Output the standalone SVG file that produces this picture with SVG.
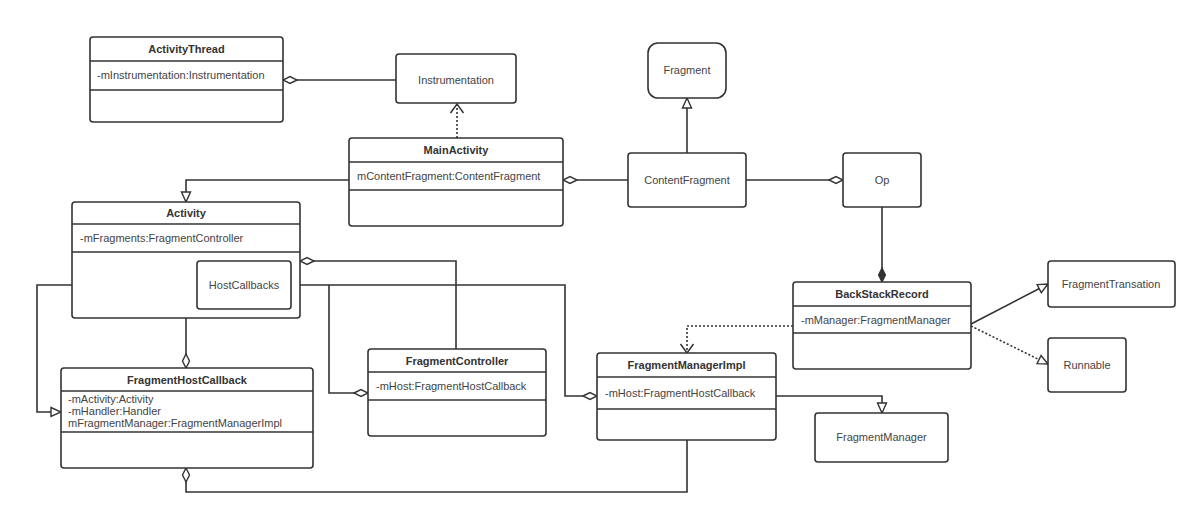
<svg xmlns="http://www.w3.org/2000/svg" width="1200" height="517" viewBox="0 0 1200 517">
<style>
.box{fill:#fff;stroke:#333;stroke-width:1.6}
.div{stroke:#333;stroke-width:1.4}
.t{font-family:"Liberation Sans",Arial,sans-serif;font-size:11px;fill:#444}
.b{font-family:"Liberation Sans",Arial,sans-serif;font-size:11px;font-weight:bold;fill:#333;text-anchor:middle}
.c{text-anchor:middle}
.ln{fill:none;stroke:#333;stroke-width:1.6}
.dot{fill:none;stroke:#333;stroke-width:1.6;stroke-dasharray:2 2}
</style>
<defs>
<marker id="dia" markerUnits="userSpaceOnUse" markerWidth="16" markerHeight="10" viewBox="-1 -5 16 10" refX="14" refY="0" orient="auto">
<path d="M0,0 L7,-3.5 L14,0 L7,3.5 Z" fill="#fff" stroke="#333" stroke-width="1.4"/>
</marker>
<marker id="fdia" markerUnits="userSpaceOnUse" markerWidth="16" markerHeight="10" viewBox="-1 -5 16 10" refX="14" refY="0" orient="auto">
<path d="M0,0 L7,-3.5 L14,0 L7,3.5 Z" fill="#333" stroke="#333" stroke-width="1.2"/>
</marker>
<marker id="tri" markerUnits="userSpaceOnUse" markerWidth="12" markerHeight="12" viewBox="-1 -6 12 12" refX="10" refY="0" orient="auto">
<path d="M0,-4.5 L10,0 L0,4.5 Z" fill="#fff" stroke="#333" stroke-width="1.4"/>
</marker>
<marker id="arr" markerUnits="userSpaceOnUse" markerWidth="12" markerHeight="16" viewBox="-1 -8 12 16" refX="9" refY="0" orient="auto">
<path d="M0,-6.5 L9,0 L0,6.5" fill="none" stroke="#333" stroke-width="1.5"/>
</marker>
</defs>
<rect width="1200" height="517" fill="#fff"/>

<g id="connectors">
<path class="ln" d="M396,80 L283,80" marker-end="url(#dia)"/>
<path class="dot" d="M457,138 L457,104" marker-end="url(#arr)"/>
<path class="ln" d="M349,180 L186,180 L186,202" marker-end="url(#tri)"/>
<path class="ln" d="M628,180 L563,180" marker-end="url(#dia)"/>
<path class="ln" d="M687,153 L687,98" marker-end="url(#tri)"/>
<path class="ln" d="M746,180 L843,180" marker-end="url(#dia)"/>
<path class="ln" d="M882,207 L882,282" marker-end="url(#fdia)"/>
<path class="ln" d="M971,324 L1048,284" marker-end="url(#tri)"/>
<path class="dot" d="M971,326 L1048,364" marker-end="url(#tri)"/>
<path class="dot" d="M793,326 L687,326 L687,353" marker-end="url(#arr)"/>
<path class="ln" d="M776,396 L882,396 L882,413" marker-end="url(#tri)"/>
<path class="ln" d="M687,440 L687,492 L186,492 L186,468" marker-end="url(#dia)"/>
<path class="ln" d="M197,285 L37,285 L37,412 L61,412" marker-end="url(#tri)"/>
<path class="ln" d="M291,285 L565,285 L565,396 L597,396" marker-end="url(#dia)"/>
<path class="ln" d="M329,285 L329,393 L368,393" marker-end="url(#dia)"/>
<path class="ln" d="M456,349 L456,261 L300,261" marker-end="url(#dia)"/>
<path class="ln" d="M186,318 L186,368" marker-end="url(#dia)"/>
</g>

<g id="ActivityThread">
<rect class="box" x="90" y="37" width="193" height="85" rx="3"/>
<line class="div" x1="90" y1="61" x2="283" y2="61"/>
<line class="div" x1="90" y1="90" x2="283" y2="90"/>
<text class="b" x="186.5" y="53">ActivityThread</text>
<text class="t" x="97" y="79">-mInstrumentation:Instrumentation</text>
</g>

<g id="Instrumentation">
<rect class="box" x="396" y="54" width="120" height="49" rx="3"/>
<text class="t c" x="456" y="84">Instrumentation</text>
</g>

<g id="MainActivity">
<rect class="box" x="349" y="138" width="214" height="88" rx="3"/>
<line class="div" x1="349" y1="162" x2="563" y2="162"/>
<line class="div" x1="349" y1="190" x2="563" y2="190"/>
<text class="b" x="456" y="154">MainActivity</text>
<text class="t" x="357" y="180">mContentFragment:ContentFragment</text>
</g>

<g id="Fragment">
<rect class="box" x="648" y="43" width="78" height="55" rx="10"/>
<text class="t c" x="687" y="74">Fragment</text>
</g>

<g id="ContentFragment">
<rect class="box" x="628" y="153" width="118" height="54" rx="3"/>
<text class="t c" x="687" y="184">ContentFragment</text>
</g>

<g id="Op">
<rect class="box" x="843" y="153" width="78" height="54" rx="3"/>
<text class="t c" x="882" y="184">Op</text>
</g>

<g id="BackStackRecord">
<rect class="box" x="793" y="282" width="178" height="87" rx="3"/>
<line class="div" x1="793" y1="306" x2="971" y2="306"/>
<line class="div" x1="793" y1="333" x2="971" y2="333"/>
<text class="b" x="882" y="298">BackStackRecord</text>
<text class="t" x="801" y="324">-mManager:FragmentManager</text>
</g>

<g id="FragmentTransation">
<rect class="box" x="1048" y="261" width="127" height="46" rx="3"/>
<text class="t c" x="1111" y="288">FragmentTransation</text>
</g>

<g id="Runnable">
<rect class="box" x="1048" y="338" width="78" height="54" rx="3"/>
<text class="t c" x="1087" y="369">Runnable</text>
</g>

<g id="Activity">
<rect class="box" x="72" y="202" width="228" height="116" rx="3"/>
<line class="div" x1="72" y1="224" x2="300" y2="224"/>
<line class="div" x1="72" y1="252" x2="300" y2="252"/>
<text class="b" x="186" y="217">Activity</text>
<text class="t" x="80" y="242">-mFragments:FragmentController</text>
</g>

<g id="HostCallbacks">
<rect class="box" x="197" y="261" width="94" height="48" rx="3"/>
<text class="t c" x="244" y="289">HostCallbacks</text>
</g>

<g id="FragmentHostCallback">
<rect class="box" x="61" y="368" width="252" height="100" rx="3"/>
<line class="div" x1="61" y1="391" x2="313" y2="391"/>
<line class="div" x1="61" y1="432" x2="313" y2="432"/>
<text class="b" x="187" y="384">FragmentHostCallback</text>
<text class="t" x="68" y="403">-mActivity:Activity</text>
<text class="t" x="68" y="415">-mHandler:Handler</text>
<text class="t" x="68" y="427">mFragmentManager:FragmentManagerImpl</text>
</g>

<g id="FragmentController">
<rect class="box" x="368" y="349" width="178" height="87" rx="3"/>
<line class="div" x1="368" y1="372" x2="546" y2="372"/>
<line class="div" x1="368" y1="400" x2="546" y2="400"/>
<text class="b" x="457" y="365">FragmentController</text>
<text class="t" x="376" y="390">-mHost:FragmentHostCallback</text>
</g>

<g id="FragmentManagerImpl">
<rect class="box" x="597" y="353" width="179" height="87" rx="3"/>
<line class="div" x1="597" y1="377" x2="776" y2="377"/>
<line class="div" x1="597" y1="409" x2="776" y2="409"/>
<text class="b" x="686.5" y="369">FragmentManagerImpl</text>
<text class="t" x="605" y="397">-mHost:FragmentHostCallback</text>
</g>

<g id="FragmentManager">
<rect class="box" x="815" y="413" width="133" height="49" rx="3"/>
<text class="t c" x="881.5" y="441">FragmentManager</text>
</g>
</svg>
